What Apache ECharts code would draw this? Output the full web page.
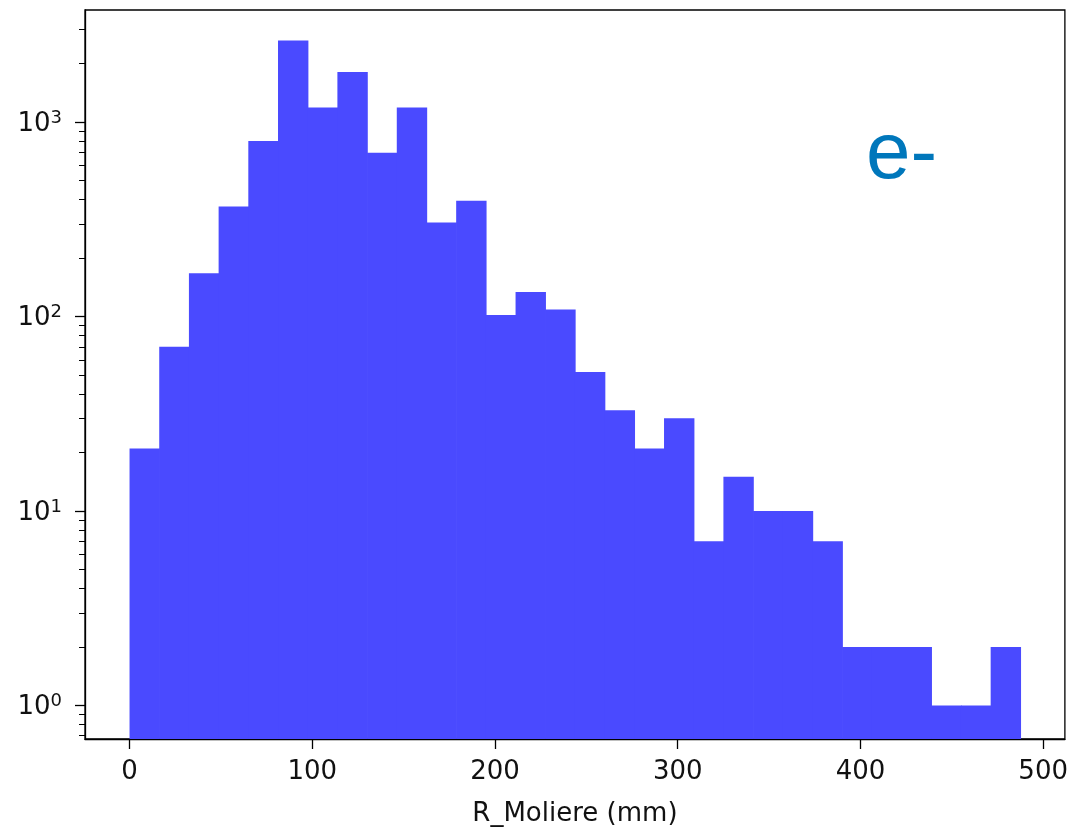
<!DOCTYPE html>
<html><head><meta charset="utf-8">
<script src="https://cdn.jsdelivr.net/npm/echarts@6/dist/echarts.min.js"></script>
<style>html,body{margin:0;padding:0;background:#fff}#c{width:1071px;height:832px}</style>
</head><body><div id="c"></div>
<script>
// ---- data ----
const binEdges = [0, 16.25, 32.5, 48.75, 65, 81.25, 97.5, 113.75, 130, 146.25, 162.5,
  178.75, 195, 211.25, 227.5, 243.75, 260, 276.25, 292.5, 308.75, 325,
  341.25, 357.5, 373.75, 390, 406.25, 422.5, 438.75, 455, 471.25, 487.5];
const counts = [21, 70, 167, 369, 800, 2630, 1189, 1812, 697, 1189,
  305, 394, 102, 134, 109, 52, 33, 21, 30, 7,
  15, 10, 10, 7, 2, 2, 2, 1, 1, 2];
const xTicks = [0, 100, 200, 300, 400, 500];
const yMajorTicks = [1, 10, 100, 1000];
const yMinorTicks = [0.7, 0.8, 0.9, 2, 3, 4, 5, 6, 7, 8, 9, 20, 30, 40, 50, 60, 70, 80, 90,
  200, 300, 400, 500, 600, 700, 800, 900, 2000, 3000];
const xLabel = 'R_Moliere (mm)';
const annotation = 'e-';

const yMin = 0.673, yMax = 3776;
const xMin = -24.375, xMax = 511.875;
const barData = counts.map((c, i) => [binEdges[i], binEdges[i + 1], c]);

const chart = echarts.init(document.getElementById('c'), null, {renderer: 'canvas'});
const FONT = 'DejaVu Sans';
const lineStyle = {color: '#000', width: 1.3};
chart.setOption({
  animation: false,
  grid: {left: 85, top: 10, width: 984, height: 732, show: true, borderColor: '#000', borderWidth: 1.3, backgroundColor: 'transparent'},
  xAxis: {
    type: 'value', min: xMin, max: xMax,
    axisLine: {show: true, onZero: false, lineStyle},
    splitLine: {show: false},
    axisTick: {show: true, customValues: xTicks, length: 10, lineStyle},
    axisLabel: {customValues: xTicks, margin: 20, fontSize: 26, color: '#111', fontFamily: FONT},
    name: xLabel, nameLocation: 'middle', nameGap: 62,
    nameTextStyle: {fontSize: 26, fontFamily: FONT, color: '#111'}
  },
  yAxis: [
    {
      type: 'log', logBase: 10, min: yMin, max: yMax, position: 'left', offset: 0,
      axisLine: {show: true, onZero: false, lineStyle},
      splitLine: {show: false},
      minorTick: {show: false},
      axisTick: {show: true, customValues: yMajorTicks, length: 10, lineStyle},
      axisLabel: {
        customValues: yMajorTicks, margin: 23, padding: [4, 0, 0, 0],
        formatter: v => '{b|10}{s|' + Math.round(Math.log10(v)) + '}',
        rich: {
          b: {fontSize: 26, fontFamily: FONT, color: '#111', lineHeight: 30, verticalAlign: 'middle'},
          s: {fontSize: 18, fontFamily: FONT, color: '#111', lineHeight: 18, verticalAlign: 'top'}
        }
      }
    },
    {
      type: 'log', logBase: 10, min: yMin, max: yMax, position: 'left', offset: 0,
      axisLine: {show: false, onZero: false}, splitLine: {show: false},
      axisTick: {show: true, customValues: yMinorTicks, length: 6, lineStyle: {color: '#000', width: 1}},
      axisLabel: {show: false}
    }
  ],
  series: [{
    type: 'custom', xAxisIndex: 0, yAxisIndex: 0, clip: true,
    data: barData,
    encode: {x: [0, 1], y: 2},
    renderItem: function (params, api) {
      const p0 = api.coord([api.value(0), api.value(2)]);
      const p1 = api.coord([api.value(1), yMin]);
      return {
        type: 'rect',
        shape: {x: p0[0], y: p0[1], width: p1[0] - p0[0] + 0.7, height: p1[1] - p0[1]},
        style: {fill: '#4a4aff'}
      };
    }
  }],
  graphic: [{
    type: 'text', left: 866, top: 116,
    style: {text: annotation, font: '80px "Liberation Sans"', fill: '#0077bb'}
  }]
});
</script>
</body></html>
